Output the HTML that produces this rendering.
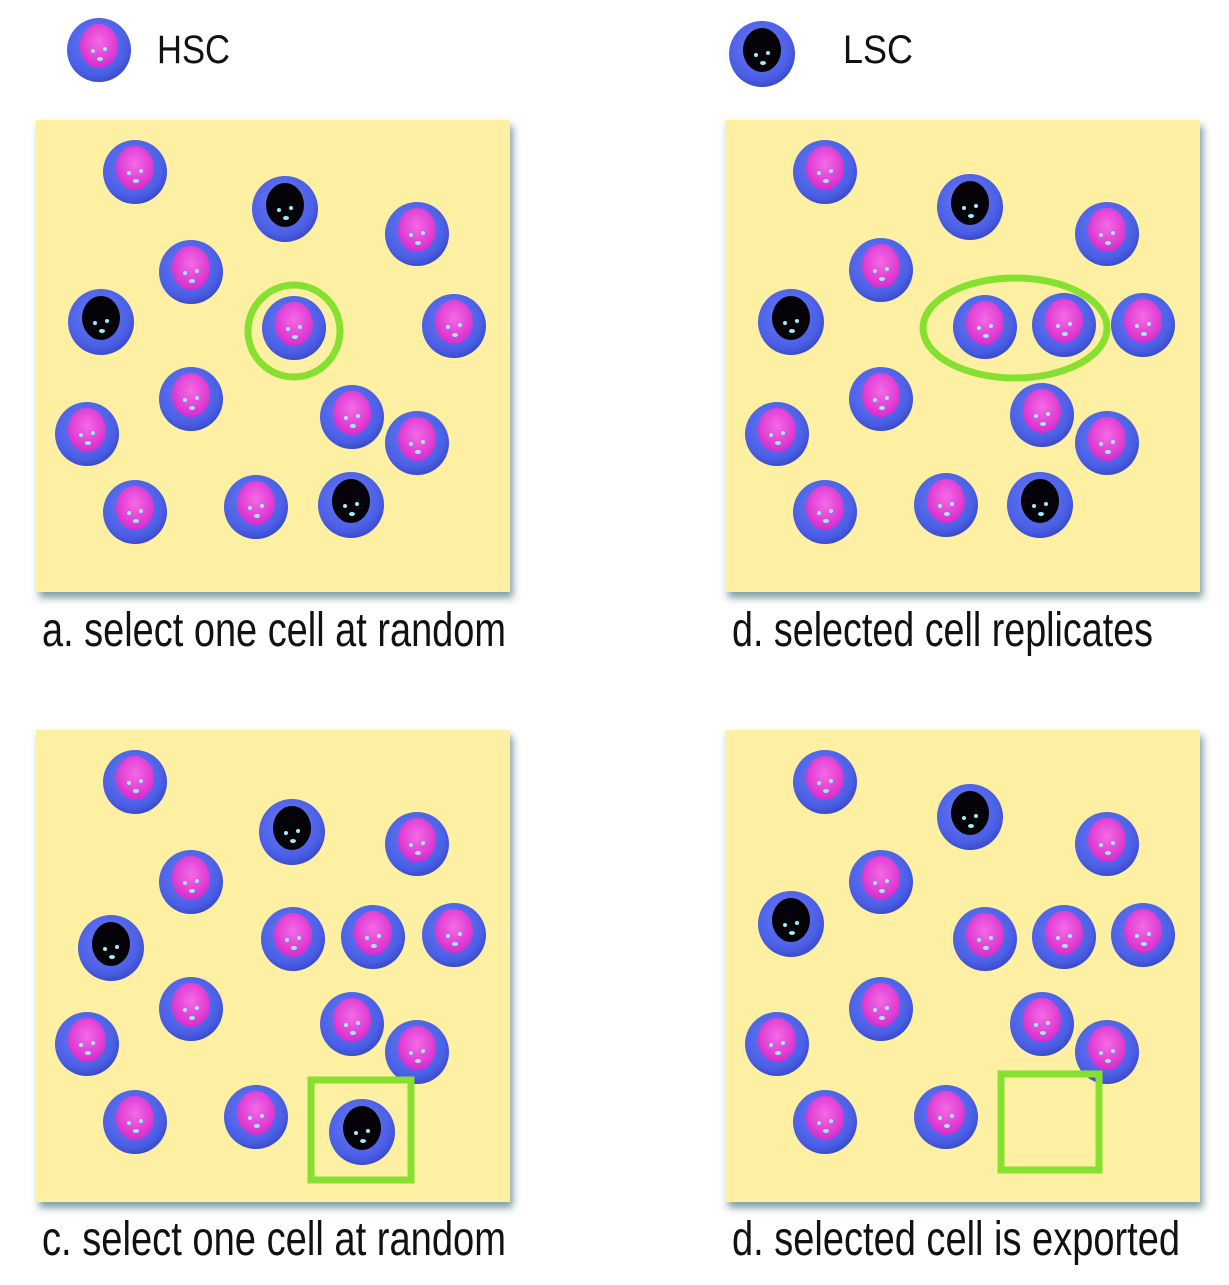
<!DOCTYPE html>
<html><head><style>html,body{margin:0;padding:0;background:#fff;}</style></head>
<body>
<svg width="1229" height="1280" viewBox="0 0 1229 1280" xmlns="http://www.w3.org/2000/svg">
<defs>
<radialGradient id="bg" cx="0.45" cy="0.4" r="0.6">
<stop offset="0" stop-color="#6a7cf5"/><stop offset="0.8" stop-color="#4b5fe6"/><stop offset="1" stop-color="#3a4ccc"/></radialGradient>
<radialGradient id="pk" cx="0.5" cy="0.4" r="0.6">
<stop offset="0" stop-color="#f46ae6"/><stop offset="1" stop-color="#d82ccc"/></radialGradient>
<g id="H"><circle cx="0" cy="0" r="32" fill="url(#bg)"/><ellipse cx="0" cy="-4" rx="19" ry="22" fill="url(#pk)"/><circle cx="-6" cy="1" r="2" fill="#9ef"/><circle cx="6" cy="-1" r="2" fill="#9ef"/><ellipse cx="1" cy="9" rx="3" ry="2" fill="#9ef"/></g>
<g id="L"><circle cx="0" cy="0" r="33" fill="url(#bg)"/><ellipse cx="0" cy="-4" rx="19" ry="22" fill="#050308"/><circle cx="-6" cy="1" r="2" fill="#9ef"/><circle cx="6" cy="-1" r="2" fill="#9ef"/><ellipse cx="1" cy="9" rx="3" ry="2" fill="#9ef"/></g>
<filter id="sh" x="-5%" y="-5%" width="115%" height="115%"><feDropShadow dx="3" dy="6" stdDeviation="4" flood-color="#2a5a6a" flood-opacity="0.6"/></filter>
</defs>
<g fill="#fdf0a2" filter="url(#sh)">
<rect x="36" y="120" width="474" height="472"/>
<rect x="725" y="120" width="475" height="472"/>
<rect x="36" y="730" width="474" height="472"/>
<rect x="725" y="730" width="475" height="472"/>
</g>
<use href="#H" x="99" y="50"/>
<use href="#L" x="762" y="54"/>
<g font-family="Liberation Sans, sans-serif" fill="#111">
<text x="157" y="63" font-size="40" textLength="73" lengthAdjust="spacingAndGlyphs">HSC</text>
<text x="843" y="63" font-size="40" textLength="70" lengthAdjust="spacingAndGlyphs">LSC</text>
<text x="42" y="646" font-size="48" textLength="464" lengthAdjust="spacingAndGlyphs">a. select one cell at random</text>
<text x="732" y="646" font-size="48" textLength="421" lengthAdjust="spacingAndGlyphs">d. selected cell replicates</text>
<text x="42" y="1255" font-size="48" textLength="464" lengthAdjust="spacingAndGlyphs">c. select one cell at random</text>
<text x="732" y="1255" font-size="48" textLength="448" lengthAdjust="spacingAndGlyphs">d. selected cell is exported</text>
</g>
<!-- panel a -->
<use href="#H" x="135" y="172"/><use href="#L" x="285" y="209"/><use href="#H" x="417" y="234"/>
<use href="#H" x="191" y="272"/><use href="#L" x="101" y="322"/><use href="#H" x="294" y="328"/>
<use href="#H" x="454" y="326"/><use href="#H" x="191" y="399"/><use href="#H" x="87" y="434"/>
<use href="#H" x="352" y="417"/><use href="#H" x="417" y="443"/><use href="#H" x="135" y="512"/>
<use href="#H" x="256" y="507"/><use href="#L" x="351" y="505"/>
<circle cx="294" cy="331" r="46" fill="none" stroke="#86e030" stroke-width="7"/>
<!-- panel b -->
<use href="#H" x="825" y="172"/><use href="#L" x="970" y="207"/><use href="#H" x="1107" y="234"/>
<use href="#H" x="881" y="270"/><use href="#L" x="791" y="322"/><use href="#H" x="985" y="327"/>
<use href="#H" x="1064" y="325"/><use href="#H" x="1143" y="325"/><use href="#H" x="881" y="399"/>
<use href="#H" x="777" y="434"/><use href="#H" x="1042" y="415"/><use href="#H" x="1107" y="443"/>
<use href="#H" x="825" y="512"/><use href="#H" x="946" y="505"/><use href="#L" x="1040" y="505"/>
<ellipse cx="1015" cy="328" rx="92" ry="50" fill="none" stroke="#86e030" stroke-width="7"/>
<!-- panel c -->
<use href="#H" x="135" y="782"/><use href="#L" x="292" y="832"/><use href="#H" x="417" y="844"/>
<use href="#H" x="191" y="882"/><use href="#L" x="111" y="948"/><use href="#H" x="293" y="939"/>
<use href="#H" x="373" y="937"/><use href="#H" x="454" y="935"/><use href="#H" x="191" y="1009"/>
<use href="#H" x="87" y="1044"/><use href="#H" x="352" y="1024"/><use href="#H" x="417" y="1052"/>
<use href="#H" x="135" y="1122"/><use href="#H" x="256" y="1117"/><use href="#L" x="362" y="1132"/>
<rect x="311" y="1080" width="100" height="100" fill="none" stroke="#86e030" stroke-width="7"/>
<!-- panel d -->
<use href="#H" x="825" y="782"/><use href="#L" x="970" y="817"/><use href="#H" x="1107" y="844"/>
<use href="#H" x="881" y="882"/><use href="#L" x="791" y="924"/><use href="#H" x="985" y="939"/>
<use href="#H" x="1064" y="937"/><use href="#H" x="1143" y="935"/><use href="#H" x="881" y="1009"/>
<use href="#H" x="777" y="1044"/><use href="#H" x="1042" y="1024"/><use href="#H" x="1107" y="1052"/>
<use href="#H" x="825" y="1122"/><use href="#H" x="946" y="1117"/>
<rect x="1001" y="1074" width="98" height="96" fill="none" stroke="#86e030" stroke-width="7"/>
</svg>
</body></html>
